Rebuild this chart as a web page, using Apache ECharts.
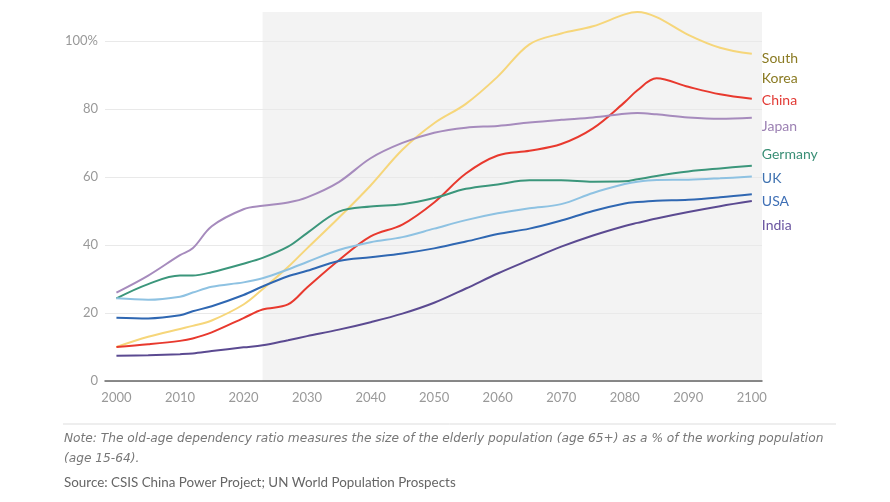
<!DOCTYPE html>
<html>
<head>
<meta charset="utf-8">
<script src="https://cdn.jsdelivr.net/npm/echarts@6/dist/echarts.min.js"></script>
<style>html,body{margin:0;padding:0;background:#fff;}#c{width:890px;height:502px;}</style>
</head>
<body>
<div id="c"></div>
<script>
const years = [2000,2005,2010,2012,2015,2020,2023,2027,2030,2035,2040,2045,2050,2055,2060,2065,2070,2075,2080,2082,2085,2090,2095,2100];
const southKorea = [10,13,15.3,16.2,17.8,22.5,27,33.5,39,48,57.5,68,75.8,81.5,89.5,99,102.2,104.3,107.8,108.5,107,101.8,98,96.2];
const china = [10,10.8,11.8,12.5,14.3,18.5,21,22.5,27.5,35.5,42.5,46,52.5,61,66.3,67.7,69.7,74.3,82,85.5,89,86.5,84.3,83];
const japan = [26,31,37,39,45.5,50.5,51.5,52.5,54,58.5,65.5,70,73,74.5,75,76,76.8,77.5,78.6,78.8,78.4,77.5,77.1,77.4];
const germany = [24.3,28.5,31,31,32,34.5,36.2,39.5,43.5,49.8,51.3,52,53.8,56.5,57.8,59,59,58.6,58.7,59.3,60.3,61.6,62.5,63.3];
const uk = [24.3,23.9,24.8,26,27.7,29,30.2,32.8,35,38.5,40.8,42.3,44.8,47.3,49.3,50.8,52,55.3,57.9,58.6,59.1,59.2,59.6,60.1];
const usa = [18.6,18.4,19.3,20.5,22,25.3,27.8,30.8,32.4,35.3,36.4,37.5,39,41,43.2,44.8,47.2,50,52.2,52.6,53,53.3,54,54.9];
const india = [7.4,7.6,7.9,8.1,8.8,9.9,10.5,12,13.2,15.1,17.3,19.8,23,27.2,31.6,35.6,39.5,42.8,45.6,46.5,47.8,49.7,51.4,52.9];
const forecastStart = 2023;
const seriesNames = ['South\nKorea','China','Japan','Germany','UK','USA','India'];
const seriesValues = [southKorea, china, japan, germany, uk, usa, india];
const lineColors = ['#f6d67a','#e8392e','#a68bbd','#3b967b','#8ec2e2','#2f67b2','#5b4a91'];
const labelColors = ['#8a7a22','#e23a35','#9c81b3','#3a8f76','#3f72b0','#3f6fb5','#6a55a0'];
const labelOffsets = [[2,15],[2,2],[2,8.5],[2,-11.5],[2,1.5],[2,7],[2,24]];

const font = 'Lato, "Noto Sans", sans-serif';
const chart = echarts.init(document.getElementById('c'), null, {renderer:'canvas'});

const series = seriesNames.map((name, i) => ({
  name: name,
  type: 'line',
  data: years.map((y, k) => [y, seriesValues[i][k]]),
  smooth: 0.35,
  showSymbol: false,
  symbol: 'none',
  z: 3,
  lineStyle: {color: lineColors[i], width: 2},
  itemStyle: {color: lineColors[i]},
  endLabel: {
    show: true,
    formatter: name,
    color: labelColors[i],
    fontFamily: font,
    fontSize: 14,
    lineHeight: 20,
    offset: labelOffsets[i]
  }
}));

series[0].markArea = {
  silent: true,
  itemStyle: {color: '#f3f3f3'},
  data: [[{xAxis: forecastStart}, {xAxis: 2101.6}]]
};

chart.setOption({
  animation: false,
  grid: {left: 105, right: 128, top: 12, bottom: 121},
  xAxis: {
    type: 'value',
    min: 1998.2,
    max: 2101.6,
    splitNumber: 10,
    z: 2,
    axisLine: {show: true, lineStyle: {color: '#666', width: 1.5}},
    axisTick: {show: false},
    splitLine: {show: false},
    axisLabel: {
      color: '#999', fontFamily: font, fontSize: 13, margin: 10,
      formatter: v => (Math.abs(v % 10) < 1e-6 ? String(v) : '')
    }
  },
  yAxis: {
    type: 'value',
    min: 0,
    max: 108.5,
    interval: 20,
    z: 1.5,
    axisLine: {show: false},
    axisTick: {show: false},
    splitLine: {show: true, lineStyle: {color: ['#e9e9e9','#e9e9e9','#e9e9e9','#e9e9e9','#e9e9e9','#e9e9e9','rgba(0,0,0,0)'], width: 1}},
    axisLabel: {
      color: '#999', fontFamily: font, fontSize: 13, margin: 7,
      showMaxLabel: false,
      formatter: v => (v === 100 ? '100%' : (v % 20 === 0 ? String(v) : ''))
    }
  },
  series: series,
  graphic: [
    {type: 'text', left: 482, top: 322, style: {text: 'Forecast', fill: '#444', font: 'italic 14px ' + font}},
    {type: 'line', shape: {x1: 63, y1: 424, x2: 836, y2: 424}, style: {stroke: '#ddd', lineWidth: 1}},
    {type: 'text', left: 64, top: 433, style: {text: 'Note: The old-age dependency ratio measures the size of the elderly population (age 65+) as a % of the working population', fill: '#777', font: 'italic 12.2px "DejaVu Sans", sans-serif'}},
    {type: 'text', left: 64, top: 453, style: {text: '(age 15-64).', fill: '#777', font: 'italic 12.2px "DejaVu Sans", sans-serif'}},
    {type: 'text', left: 64, top: 476, style: {text: 'Source: CSIS China Power Project; UN World Population Prospects', fill: '#666', font: '13.4px ' + font}}
  ]
});
</script>
</body>
</html>
